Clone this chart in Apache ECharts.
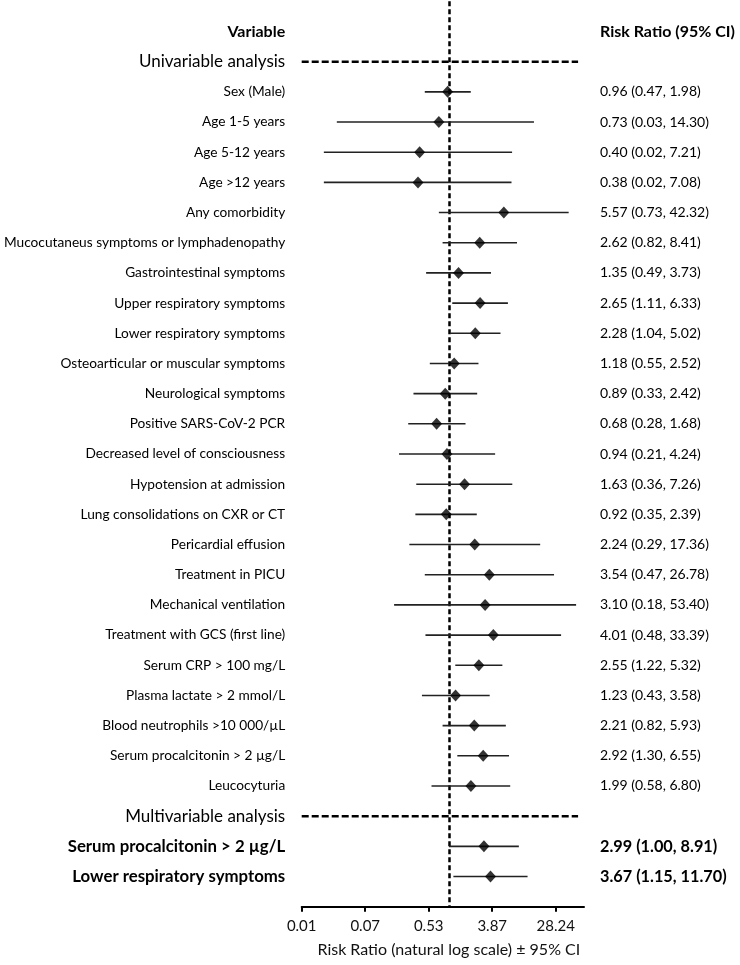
<!DOCTYPE html>
<html><head><meta charset="utf-8">
<script src="https://cdn.jsdelivr.net/npm/echarts@6/dist/echarts.min.js"></script>
<style>html,body{margin:0;padding:0;background:#fff}#c{width:740px;height:965px}</style>
</head><body><div id="c"></div>
<script>
const headerLeft = 'Variable';
const headerRight = 'Risk Ratio (95% CI)';
const sectionTitles = ['Univariable analysis', 'Multivariable analysis'];
const uniLabels = ['Sex (Male)', 'Age 1-5 years', 'Age 5-12 years', 'Age >12 years', 'Any comorbidity',
  'Mucocutaneus symptoms or lymphadenopathy', 'Gastrointestinal symptoms', 'Upper respiratory symptoms',
  'Lower respiratory symptoms', 'Osteoarticular or muscular symptoms', 'Neurological symptoms',
  'Positive SARS-CoV-2 PCR', 'Decreased level of consciousness', 'Hypotension at admission',
  'Lung consolidations on CXR or CT', 'Pericardial effusion', 'Treatment in PICU', 'Mechanical ventilation',
  'Treatment with GCS (first line)', 'Serum CRP > 100 mg/L', 'Plasma lactate > 2 mmol/L',
  'Blood neutrophils >10 000/µL', 'Serum procalcitonin > 2 µg/L', 'Leucocyturia'];
const uniRR = [0.96, 0.73, 0.40, 0.38, 5.57, 2.62, 1.35, 2.65, 2.28, 1.18, 0.89, 0.68, 0.94, 1.63, 0.92, 2.24, 3.54, 3.10, 4.01, 2.55, 1.23, 2.21, 2.92, 1.99];
const uniLo = [0.47, 0.03, 0.02, 0.02, 0.73, 0.82, 0.49, 1.11, 1.04, 0.55, 0.33, 0.28, 0.21, 0.36, 0.35, 0.29, 0.47, 0.18, 0.48, 1.22, 0.43, 0.82, 1.30, 0.58];
const uniHi = [1.98, 14.30, 7.21, 7.08, 42.32, 8.41, 3.73, 6.33, 5.02, 2.52, 2.42, 1.68, 4.24, 7.26, 2.39, 17.36, 26.78, 53.40, 33.39, 5.32, 3.58, 5.93, 6.55, 6.80];
const multiLabels = ['Serum procalcitonin > 2 µg/L', 'Lower respiratory symptoms'];
const multiRR = [2.99, 3.67];
const multiLo = [1.00, 1.15];
const multiHi = [8.91, 11.70];
const tickLabels = ['0.01', '0.07', '0.53', '3.87', '28.24'];
const axisTitle = 'Risk Ratio (natural log scale) ± 95% CI';

// ---- build rows (row index = vertical slot) ----
const rows = [];
rows.push({ kind: 'header' });
rows.push({ kind: 'section', text: sectionTitles[0] });
uniLabels.forEach((l, i) => rows.push({ kind: 'uni', text: l, rr: uniRR[i], lo: uniLo[i], hi: uniHi[i] }));
rows.push({ kind: 'section', text: sectionTitles[1] });
multiLabels.forEach((l, i) => rows.push({ kind: 'multi', text: l, rr: multiRR[i], lo: multiLo[i], hi: multiHi[i] }));

const fmt = r => `${r.rr.toFixed(2)} (${r.lo.toFixed(2)}, ${r.hi.toFixed(2)})`;

const lnMin = Math.log(Number(tickLabels[0]));
const lnLast = Math.log(Number(tickLabels[tickLabels.length - 1]));
const step = (lnLast - lnMin) / (tickLabels.length - 1);
const tickVals = tickLabels.map((t, i) => lnMin + i * step);
const xMax = 4.225;
const sepEnd = 4.04;
const FONT = 'Lato, "Open Sans", sans-serif';

const estRows = [];
rows.forEach((r, i) => { if (r.rr !== undefined) estRows.push({ r, i }); });

const chart = echarts.init(document.getElementById('c'), null, { renderer: 'canvas' });

const option = {
  animation: false,
  backgroundColor: '#fff',
  grid: { left: 301.7, right: 156, top: 1.3, bottom: 58.3 },
  xAxis: {
    type: 'value', min: lnMin, max: xMax,
    splitLine: { show: false },
    axisLine: { show: true, onZero: false, lineStyle: { color: '#000', width: 2 } },
    axisTick: { show: true, length: 5, lineStyle: { color: '#000', width: 2 }, customValues: tickVals },
    axisLabel: {
      customValues: tickVals, margin: 12, color: '#111', fontSize: 15, fontFamily: FONT,
      formatter: v => { let k = 0, best = 1e9; tickVals.forEach((t, i) => { if (Math.abs(t - v) < best) { best = Math.abs(t - v); k = i; } }); return tickLabels[k]; }
    },
    name: axisTitle, nameLocation: 'middle', nameGap: 35,
    nameTextStyle: { color: '#111', fontSize: 16, fontFamily: FONT, padding: [0, 0, 0, 12] }
  },
  yAxis: { type: 'value', min: -1, max: 29, inverse: true, show: false },
  series: [
    {
      type: 'custom', name: 'ci', clip: false, z: 2,
      data: estRows.map(o => [Math.log(o.r.lo), Math.log(o.r.hi), o.i]),
      encode: { x: [0, 1], y: 2 },
      renderItem: (params, api) => {
        const a = api.coord([api.value(0), api.value(2)]);
        const b = api.coord([api.value(1), api.value(2)]);
        return { type: 'line', shape: { x1: a[0], y1: a[1], x2: b[0], y2: b[1] }, style: { stroke: '#222', lineWidth: 1.6 } };
      },
      markLine: {
        silent: true, symbol: 'none', z: 1,
        label: { show: false },
        lineStyle: { color: '#000', width: 2.5, type: [5, 3] },
        data: [{ xAxis: 0 }]
      }
    },
    {
      type: 'custom', name: 'sep', clip: false, z: 2,
      data: rows.map((r, i) => r.kind === 'section' ? [lnMin, i] : null).filter(d => d),
      renderItem: (params, api) => {
        const a = api.coord([lnMin, api.value(1)]);
        const b = api.coord([sepEnd, api.value(1)]);
        return { type: 'line', shape: { x1: a[0], y1: a[1], x2: b[0], y2: b[1] }, style: { stroke: '#000', lineWidth: 2.5, lineDash: [7, 3] } };
      }
    },
    {
      type: 'scatter', name: 'rr', z: 5,
      symbol: 'diamond', symbolSize: [11, 12],
      itemStyle: { color: '#000' },
      data: estRows.map(o => [Math.log(o.r.rr), o.i])
    },
    {
      type: 'custom', name: 'text', clip: false, z: 6,
      data: rows.map((r, i) => [lnMin, i]),
      renderItem: (params, api) => {
        const r = rows[params.dataIndex];
        const p = api.coord([lnMin, api.value(1)]);
        const q = api.coord([xMax, api.value(1)]);
        const lx = p[0] - 16.5, rx = q[0] + 16, y = p[1];
        const children = [];
        const t = (text, x, align, size, weight) => children.push({
          type: 'text', style: { text, x, y, align, verticalAlign: 'middle', fill: '#000', fontSize: size, fontWeight: weight, fontFamily: FONT }
        });
        if (r.kind === 'header') { t(headerLeft, lx, 'right', 16, 'bold'); t(headerRight, rx, 'left', 16, 'bold'); }
        else if (r.kind === 'section') { t(r.text, lx, 'right', 17, 'normal'); }
        else if (r.kind === 'uni') { t(r.text, lx, 'right', 13.7, 'normal'); t(fmt(r), rx, 'left', 14, 'normal'); }
        else { t(r.text, lx, 'right', 16.8, 'bold'); t(fmt(r), rx, 'left', 16.3, 'bold'); }
        return { type: 'group', children };
      }
    }
  ]
};
chart.setOption(option);
</script>
</body></html>
